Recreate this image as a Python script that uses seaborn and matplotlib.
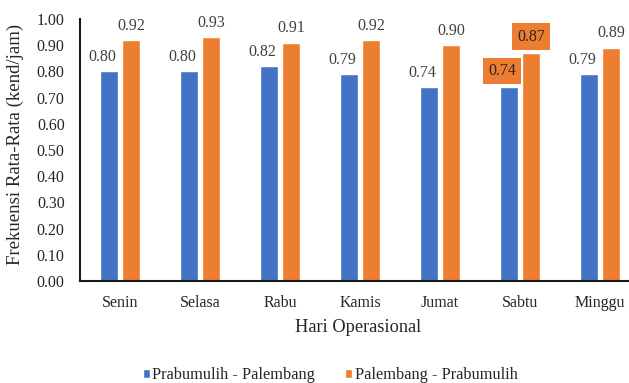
import matplotlib
matplotlib.use("Agg")
import matplotlib.pyplot as plt
import seaborn as sns
import pandas as pd

# Average frequency per operating day, both directions
days = ["Senin", "Selasa", "Rabu", "Kamis", "Jumat", "Sabtu", "Minggu"]
routes = ["Prabumulih - Palembang", "Palembang - Prabumulih"]
prb_plg = [0.80, 0.80, 0.82, 0.79, 0.74, 0.74, 0.79]
plg_prb = [0.92, 0.93, 0.91, 0.92, 0.90, 0.87, 0.89]
y_ticks = [0.0, 0.1, 0.2, 0.3, 0.4, 0.5, 0.6, 0.7, 0.8, 0.9, 1.0]
highlight_day = "Sabtu"

colors = ["#4472C4", "#ED7D31"]

df = pd.DataFrame({
    "Hari": days * 2,
    "Rute": [routes[0]] * len(days) + [routes[1]] * len(days),
    "Frekuensi": prb_plg + plg_prb,
})

sns.set_theme(style="white")
plt.rcParams["font.family"] = ["Liberation Serif", "DejaVu Serif"]

W, H = 629, 383
fig = plt.figure(figsize=(W / 100, H / 100), dpi=100)
ax = fig.add_axes([80 / W, 1 - 281 / H, 560 / W, 262 / H])

sns.barplot(data=df, x="Hari", y="Frekuensi", hue="Rute", hue_order=routes,
            palette=colors, width=0.55, gap=0.2, saturation=1,
            errorbar=None, ax=ax)

# Value labels above each bar
series = [prb_plg, plg_prb]
x_shift = [-5, 0]
for i, (container, vals) in enumerate(zip(ax.containers, series)):
    for bar, v, d in zip(container, vals, days):
        cx = bar.get_x() + bar.get_width() / 2
        kw = {}
        color = "#404040"
        dy = 7.5
        if d == highlight_day:
            kw["bbox"] = dict(boxstyle="square,pad=0.32", fc="#ED7D31", ec="none")
            color = "#262626"
            dy = 9.0
        ax.annotate(f"{v:.2f}", xy=(cx, v), xytext=(x_shift[i], dy),
                    textcoords="offset points", ha="center", va="baseline",
                    fontsize=11.5, color=color, **kw)

ax.set_ylim(0, 1.0)
ax.set_xlim(-0.5, 6.5)
ax.set_yticks(y_ticks)
ax.set_yticklabels([f"{t:.2f}" for t in y_ticks])

for side in ["top", "right"]:
    ax.spines[side].set_visible(False)
for side in ["left", "bottom"]:
    ax.spines[side].set_color("#1a1a1a")
    ax.spines[side].set_linewidth(1.5)

ax.tick_params(axis="both", direction="inout", length=8, width=1.3,
               color="#1a1a1a", labelsize=11.5, labelcolor="#262626")
ax.tick_params(axis="y", pad=7)
ax.tick_params(axis="x", pad=6)

ax.set_xlabel("Hari Operasional", fontsize=13.2, color="#262626")
ax.set_ylabel("Frekuensi Rata-Rata (kend/jam)", fontsize=13.5, color="#262626")
ax.xaxis.label.set_va("center")
ax.xaxis.set_label_coords((358 - 80) / 560, (281 - 327) / 262)
ax.yaxis.label.set_va("center")
ax.yaxis.set_label_coords((15 - 80) / 560, 0.52)

sns.move_legend(ax, "center", bbox_to_anchor=((330 - 80) / 560, (281 - 375) / 262),
                ncol=2, frameon=False, title=None, fontsize=11.8,
                handlelength=0.45, handleheight=0.45, handletextpad=0.15,
                columnspacing=1.8)
for t in ax.get_legend().get_texts():
    t.set_color("#262626")

fig.savefig("out.png", dpi=100)
